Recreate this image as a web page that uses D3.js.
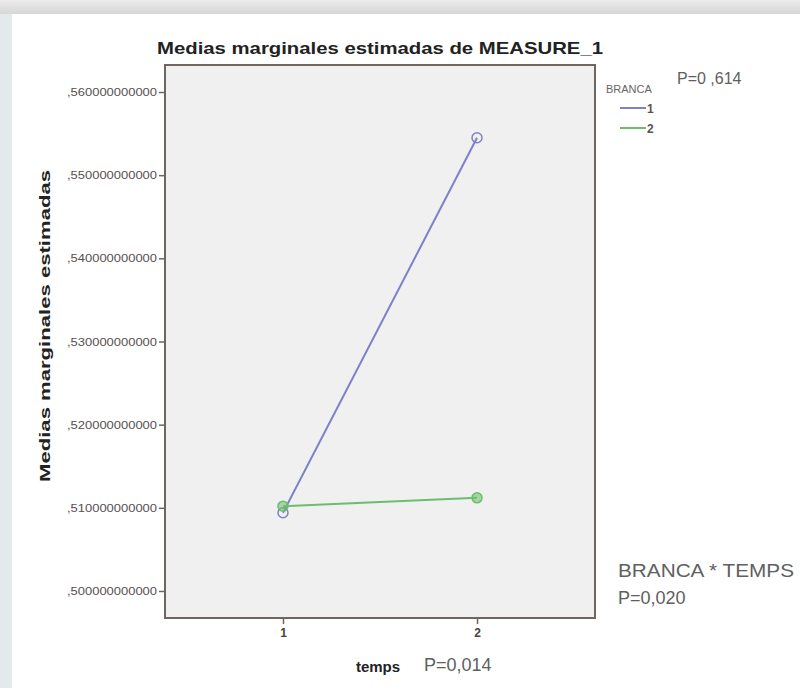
<!DOCTYPE html>
<html>
<head>
<meta charset="utf-8">
<script src="https://cdn.jsdelivr.net/npm/d3@7"></script>
<style>
  body { margin: 0; background: #fff; }
  text { font-family: "Liberation Sans", Arial, sans-serif; }
</style>
</head>
<body>
<div id="chart"></div>
<script>
const temps = ['1', '2'];
const branca1 = [0.5094, 0.5545];
const branca2 = [0.5102, 0.5112];
const yTicks = [0.50, 0.51, 0.52, 0.53, 0.54, 0.55, 0.56];
const legendLabels = ['1', '2'];
const colors = ['#7f80c8', '#6cbd6c'];

const width = 800, height = 688;
const frame = { left: 165, top: 65, right: 595, bottom: 618 };

const svg = d3.select('#chart').append('svg')
    .attr('width', width)
    .attr('height', height);

// scan borders
const grad = svg.append('defs').append('linearGradient')
    .attr('id', 'topband').attr('x1', 0).attr('x2', 0).attr('y1', 0).attr('y2', 1);
grad.append('stop').attr('offset', '0%').attr('stop-color', '#ececec');
grad.append('stop').attr('offset', '100%').attr('stop-color', '#d6d6d6');
svg.append('rect').attr('x', 0).attr('y', 0).attr('width', width).attr('height', 14).attr('fill', 'url(#topband)');
svg.append('rect').attr('x', 0).attr('y', 14).attr('width', 12).attr('height', height - 14).attr('fill', '#e4e9eb');

const x = d3.scalePoint()
    .domain(temps)
    .range([frame.left, frame.right])
    .padding(0.608);

const y = d3.scaleLinear()
    .domain([0.49675, 0.56325])
    .range([frame.bottom, frame.top]);

svg.append('rect')
    .attr('x', frame.left).attr('y', frame.top)
    .attr('width', frame.right - frame.left)
    .attr('height', frame.bottom - frame.top)
    .attr('fill', '#f0f0f0')
    .attr('stroke', '#6f6662')
    .attr('stroke-width', 2);

const yAxis = svg.append('g')
    .attr('transform', `translate(${frame.left},0)`)
    .call(d3.axisLeft(y).tickValues(yTicks).tickSize(6).tickPadding(2)
        .tickFormat(d => ',' + d3.format('.12f')(d).slice(2)));
yAxis.select('.domain').remove();
yAxis.selectAll('.tick line').attr('stroke', '#6f6662').attr('stroke-width', 1.5);
yAxis.selectAll('.tick text')
    .attr('fill', '#575050')
    .attr('font-size', 11)
    .attr('textLength', 90)
    .attr('lengthAdjust', 'spacingAndGlyphs');

const xAxis = svg.append('g')
    .attr('transform', `translate(0,${frame.bottom})`)
    .call(d3.axisBottom(x).tickSize(6).tickPadding(4));
xAxis.select('.domain').remove();
xAxis.selectAll('.tick line').attr('stroke', '#6f6662').attr('stroke-width', 1.5);
xAxis.selectAll('.tick text').attr('fill', '#444').attr('font-size', 12).attr('font-weight', 'bold');

const series = [branca1, branca2];
const line = d3.line().x((d, i) => x(temps[i])).y(d => y(d));

series.forEach((s, k) => {
    svg.append('path')
        .datum(s)
        .attr('d', line)
        .attr('fill', 'none')
        .attr('stroke', colors[k])
        .attr('stroke-width', 2);
    svg.append('g').selectAll('circle')
        .data(s)
        .join('circle')
        .attr('cx', (d, i) => x(temps[i]))
        .attr('cy', d => y(d))
        .attr('r', 5)
        .attr('fill', k === 0 ? 'none' : colors[k])
        .attr('fill-opacity', 0.55)
        .attr('stroke', colors[k])
        .attr('stroke-width', 1.5);
});

// title
svg.append('text')
    .attr('x', 380).attr('y', 54)
    .attr('text-anchor', 'middle')
    .attr('font-size', 17).attr('font-weight', 'bold')
    .attr('fill', '#222')
    .attr('textLength', 446).attr('lengthAdjust', 'spacingAndGlyphs')
    .text('Medias marginales estimadas de MEASURE_1');

// y label
svg.append('text')
    .attr('transform', 'translate(50,326) rotate(-90)')
    .attr('text-anchor', 'middle')
    .attr('font-size', 15).attr('font-weight', 'bold')
    .attr('fill', '#222')
    .attr('textLength', 312).attr('lengthAdjust', 'spacingAndGlyphs')
    .text('Medias marginales estimadas');

// x label
svg.append('text')
    .attr('x', 378).attr('y', 672)
    .attr('text-anchor', 'middle')
    .attr('font-size', 15).attr('font-weight', 'bold')
    .attr('fill', '#222')
    .text('temps');
svg.append('text')
    .attr('x', 424).attr('y', 671)
    .attr('font-size', 18)
    .attr('fill', '#606060')
    .text('P=0,014');

// legend
svg.append('text')
    .attr('x', 606).attr('y', 93)
    .attr('font-size', 11)
    .attr('fill', '#6a6464')
    .text('BRANCA');
svg.append('text')
    .attr('x', 677).attr('y', 84)
    .attr('font-size', 16)
    .attr('fill', '#606060')
    .text('P=0 ,614');

const leg = svg.append('g').selectAll('g')
    .data(legendLabels)
    .join('g')
    .attr('transform', (d, i) => `translate(620,${108 + i * 20})`);
leg.append('line')
    .attr('x1', 0).attr('x2', 26)
    .attr('stroke', (d, i) => colors[i])
    .attr('stroke-width', 2);
leg.append('text')
    .attr('x', 27).attr('y', 5)
    .attr('font-size', 12).attr('font-weight', 'bold')
    .attr('fill', '#555')
    .text(d => d);

// interaction annotation
svg.append('text')
    .attr('x', 618).attr('y', 577)
    .attr('font-size', 18)
    .attr('fill', '#606060')
    .attr('textLength', 176).attr('lengthAdjust', 'spacingAndGlyphs')
    .text('BRANCA * TEMPS');
svg.append('text')
    .attr('x', 618).attr('y', 604)
    .attr('font-size', 18)
    .attr('fill', '#606060')
    .text('P=0,020');
</script>
</body>
</html>
